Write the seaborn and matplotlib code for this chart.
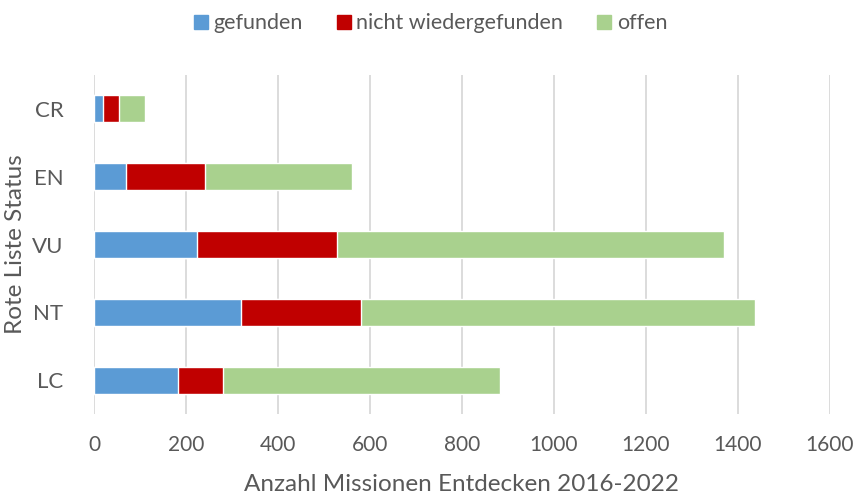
import matplotlib
matplotlib.use("Agg")
import matplotlib.pyplot as plt
import seaborn as sns
import pandas as pd
import numpy as np

# Red List categories and mission outcomes
status = ["CR", "EN", "VU", "NT", "LC"]
gefunden = [20, 70, 224, 319, 183]
nicht_wiedergefunden = [35, 172, 304, 261, 97]
offen = [55, 318, 842, 858, 603]

series_names = ["gefunden", "nicht wiedergefunden", "offen"]
colors = ["#5B9BD5", "#C00000", "#A9D18E"]

sns.set_theme(style="white")
plt.rcParams["font.family"] = ["Lato", "DejaVu Sans"]
text_color = "#595959"

df = pd.DataFrame({
    "status": status,
    "gefunden": gefunden,
    "nicht wiedergefunden": nicht_wiedergefunden,
    "offen": offen,
})
# cumulative totals for stacking
df["c1"] = df["gefunden"]
df["c2"] = df["c1"] + df["nicht wiedergefunden"]
df["c3"] = df["c2"] + df["offen"]

fig = plt.figure(figsize=(8.54, 4.95), dpi=100)
ax = fig.add_axes([94 / 854, 81 / 495, 736 / 854, 339 / 495])

for col, color in zip(["c3", "c2", "c1"], colors[::-1]):
    sns.barplot(data=df, x=col, y="status", order=status, color=color,
                width=0.4, orient="h", ax=ax, saturation=1)

ax.set_xlim(0, 1600)
ax.set_xticks(np.arange(0, 1601, 200))
ax.xaxis.grid(True, color="#D9D9D9", linewidth=1.3)
ax.set_axisbelow(True)
for s in ax.spines.values():
    s.set_visible(False)
ax.tick_params(axis="both", length=0, colors=text_color)
ax.tick_params(axis="x", pad=15, labelsize=15)
ax.tick_params(axis="y", pad=22, labelsize=16)
ax.set_xlabel("Anzahl Missionen Entdecken 2016-2022", fontsize=17.5, color=text_color, labelpad=14)
ax.set_ylabel("Rote Liste Status", fontsize=17.5, color=text_color, labelpad=4)

handles = [plt.Rectangle((0, 0), 1, 1, color=c) for c in colors]
fig.legend(handles, series_names, loc="upper center", bbox_to_anchor=(0.504, 1.012),
           ncol=3, frameon=False, fontsize=15.5, handlelength=0.65, handleheight=0.65,
           handletextpad=0.25, columnspacing=1.6, labelcolor=text_color)

fig.savefig("out.png", dpi=100)
